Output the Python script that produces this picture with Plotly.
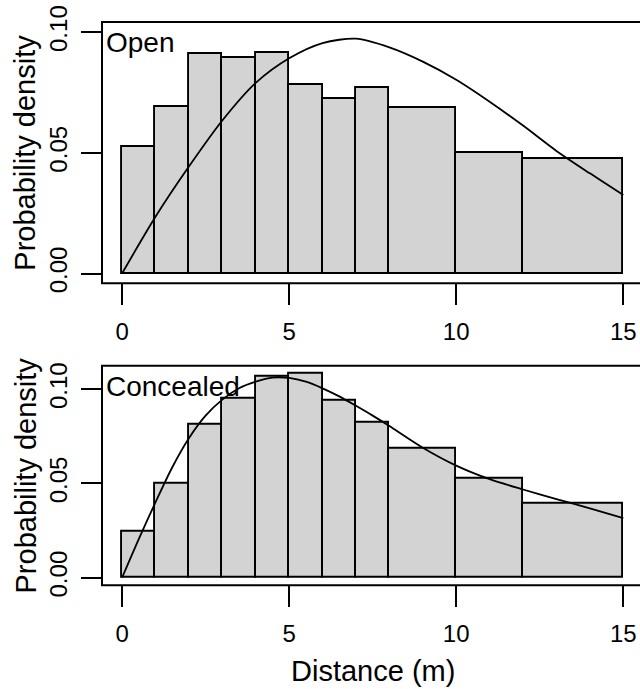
import plotly.graph_objects as go

# ---- data ----
bin_edges = [0, 1, 2, 3, 4, 5, 6, 7, 8, 10, 12, 15]
open_density = [0.0525, 0.0691, 0.0910, 0.0894, 0.0914, 0.0782, 0.0722, 0.0770, 0.0686, 0.0499, 0.0476]
concealed_density = [0.0243, 0.0498, 0.0811, 0.0949, 0.1069, 0.1085, 0.0938, 0.0824, 0.0685, 0.0523, 0.0392]

open_curve_x = [0, 1, 2, 3, 4, 5, 6, 7, 8, 9, 10, 11, 12, 13, 14, 15]
open_curve = [0, 0.0235, 0.0443, 0.0634, 0.0790, 0.0892, 0.0955, 0.0973, 0.0937, 0.0878,
              0.0803, 0.0712, 0.0613, 0.0508, 0.0415, 0.0325]
concealed_curve_x = [0, 0.5, 1, 1.5, 2, 2.5, 3, 3.5, 4, 4.5, 5, 5.5, 6, 6.5, 7, 7.5, 8,
                     9, 10, 11, 12, 13, 14, 15]
concealed_curve = [0, 0.0205, 0.0400, 0.0585, 0.0740, 0.0860, 0.0945, 0.1005, 0.1040, 0.1062,
                   0.1060, 0.1040, 0.1005, 0.0962, 0.0912, 0.0860, 0.0805,
                   0.0690, 0.0595, 0.0523, 0.0468, 0.0417, 0.0368, 0.0316]

x_ticks = [0, 5, 10, 15]
y_ticks = [0, 0.05, 0.10]
y_ticktext = ["0.00", "0.05", "0.10"]
panel_labels = ["Open", "Concealed"]

# ---- layout constants ----
W, H = 640, 689
FONT = "Liberation Sans, Arial, Helvetica, sans-serif"
left_px = 102
panels = [  # (top px, bottom px, y range)
    (22.0, 283.3, [-0.00406, 0.10423]),
    (365.7, 585.3, [-0.00403, 0.1125]),
]

centers = [(a + b) / 2 for a, b in zip(bin_edges[:-1], bin_edges[1:])]
widths = [b - a for a, b in zip(bin_edges[:-1], bin_edges[1:])]

fig = go.Figure()
densities = [open_density, concealed_density]
curves = [(open_curve_x, open_curve), (concealed_curve_x, concealed_curve)]

for i in range(2):
    xa = "x" if i == 0 else "x2"
    ya = "y" if i == 0 else "y2"
    fig.add_trace(go.Bar(x=centers, y=densities[i], width=widths,
                         marker=dict(color="#d3d3d3", line=dict(color="black", width=1.9)),
                         xaxis=xa, yaxis=ya, showlegend=False, hoverinfo="skip"))
    fig.add_trace(go.Scatter(x=curves[i][0], y=curves[i][1], mode="lines",
                             line=dict(color="black", width=1.8, shape="spline", smoothing=0.8),
                             xaxis=xa, yaxis=ya, showlegend=False, hoverinfo="skip"))

layout = dict(
    width=W, height=H,
    margin=dict(l=0, r=0, t=0, b=0, pad=0, autoexpand=False),
    paper_bgcolor="white", plot_bgcolor="white",
    bargap=0, barmode="overlay",
    font=dict(family=FONT, color="black"),
    shapes=[], annotations=[],
)

for i, (top, bot, yr) in enumerate(panels):
    sfx = "" if i == 0 else "2"
    y0 = 1 - bot / H
    y1 = 1 - top / H
    layout["xaxis" + sfx] = dict(
        domain=[left_px / W, 1], range=[-0.6, 15.5], anchor="y" + sfx, automargin=False,
        tickvals=x_ticks, ticks="outside", ticklen=21, tickwidth=2, tickcolor="black",
        showline=False, showgrid=False, zeroline=False,
        tickfont=dict(size=24, family=FONT, color="black"), ticklabelstandoff=6,
    )
    layout["yaxis" + sfx] = dict(
        domain=[y0, y1], range=yr, anchor="x" + sfx, automargin=False,
        tickvals=y_ticks, ticktext=y_ticktext, tickangle=-90,
        ticks="outside", ticklen=20, tickwidth=2, tickcolor="black",
        showline=False, showgrid=False, zeroline=False,
        tickfont=dict(size=24, family=FONT, color="black"), ticklabelstandoff=4,
    )
    layout["shapes"].append(dict(type="rect", xref="paper", yref="paper",
                                 x0=left_px / W, x1=1.02, y0=y0, y1=y1,
                                 line=dict(color="black", width=2), layer="above"))
    layout["annotations"].append(dict(
        text="Probability density", textangle=-90, xref="paper", yref="paper",
        x=25 / W, y=1 - (top + bot) / 2 / H, xanchor="center", yanchor="middle",
        showarrow=False, font=dict(size=29, family=FONT, color="black")))
    layout["annotations"].append(dict(
        text=panel_labels[i], xref="paper", yref="paper",
        x=104 / W, y=1 - (top + 21) / H, xanchor="left", yanchor="middle",
        showarrow=False, font=dict(size=28, family=FONT, color="black")))

layout["annotations"].append(dict(
    text="Distance (m)", xref="paper", yref="paper",
    x=(left_px + 643) / 2 / W, y=1 - 671 / H, xanchor="center", yanchor="middle",
    showarrow=False, font=dict(size=29, family=FONT, color="black")))

fig.update_layout(**layout)
fig.write_html("out.html")
